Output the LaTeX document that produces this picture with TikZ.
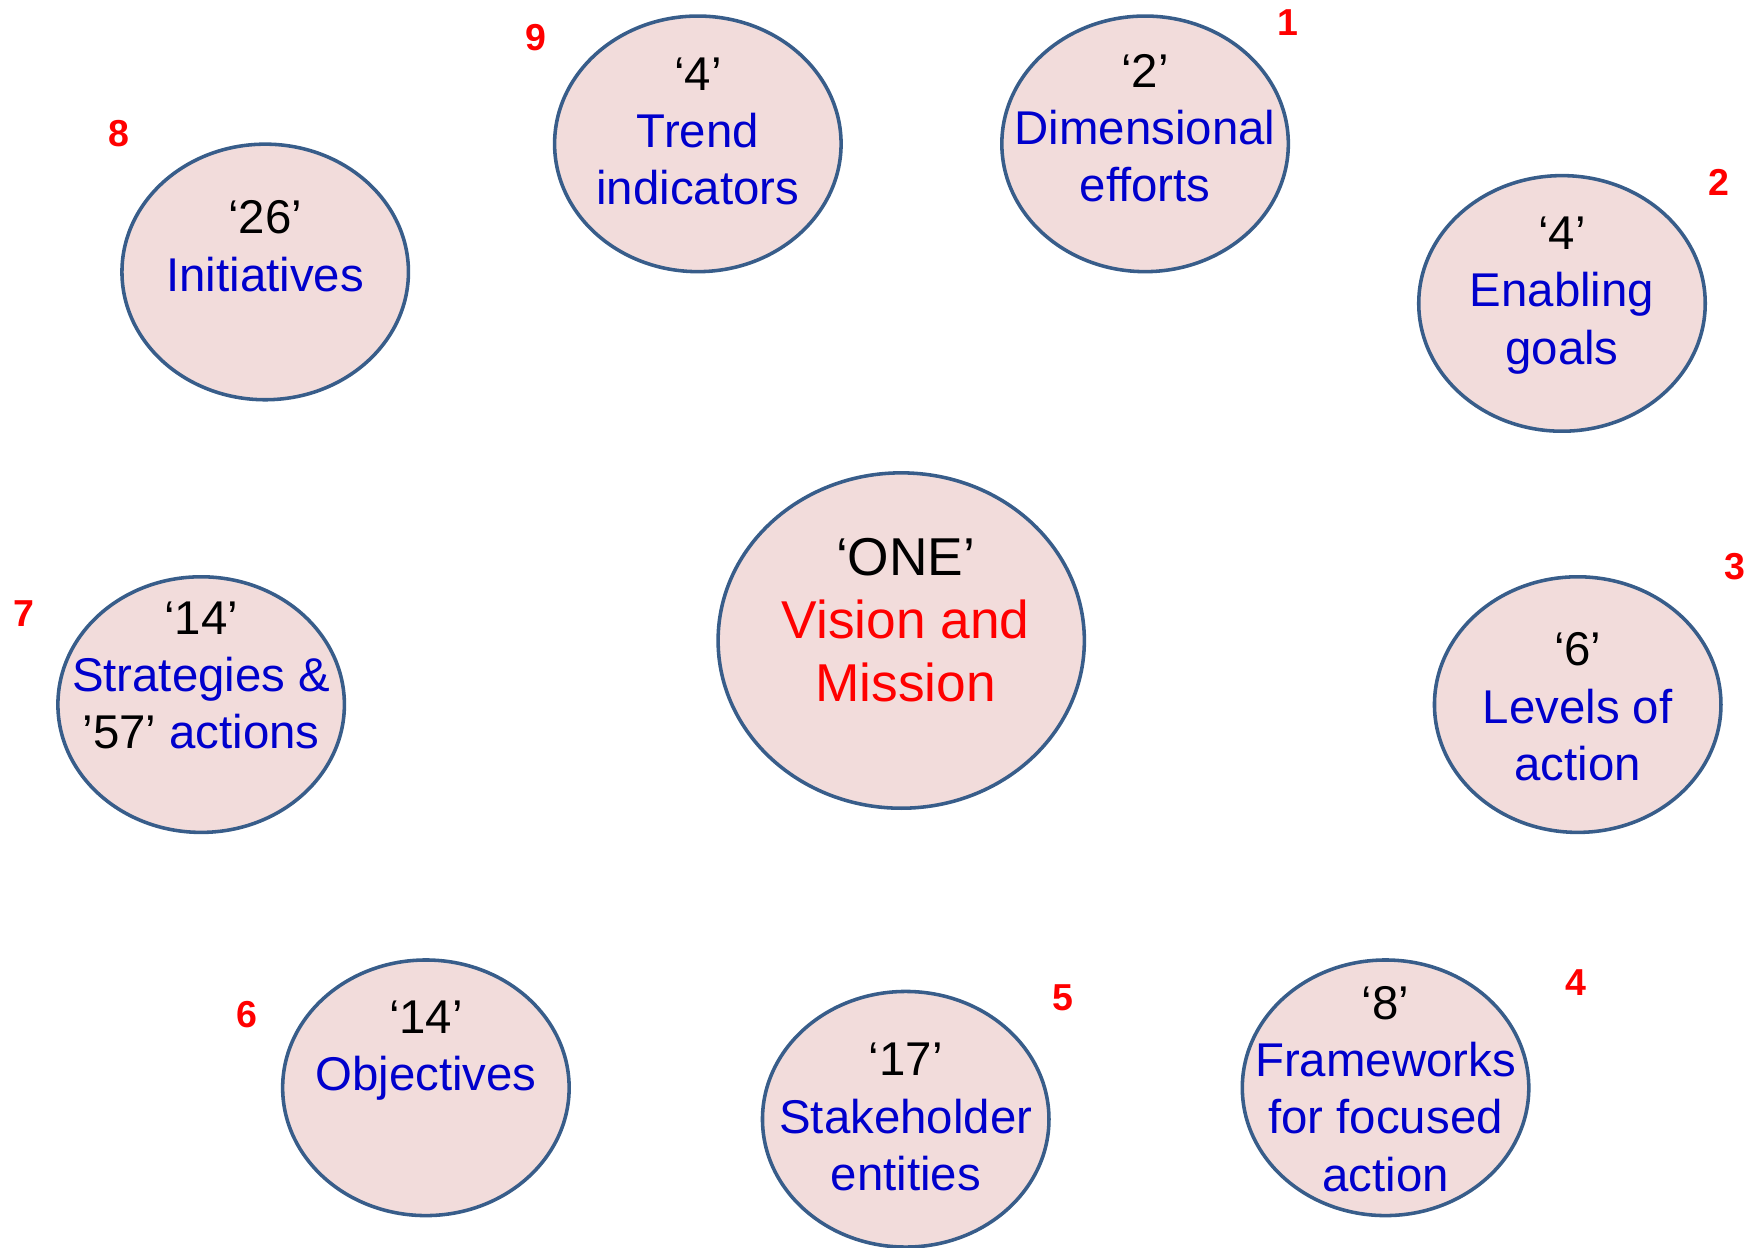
\documentclass[tikz,border=0pt]{standalone}
\usepackage{fontspec}
\setmainfont{Liberation Sans}
\usepackage{xcolor}
\definecolor{discFill}{HTML}{F2DCDB}
\definecolor{discLine}{HTML}{385D8A}
\definecolor{textBlue}{HTML}{0000CC}
\definecolor{textRed}{HTML}{FF0000}
\usetikzlibrary{shapes.geometric, positioning}
\tikzset{disc/.style={ellipse, draw=discLine, fill=discFill, line width=1.8pt, inner sep=0pt, minimum width=5.1cm, minimum height=4.55cm}}

\begin{document}
\begin{tikzpicture}[x=0.02cm, y=-0.02cm, every node/.style={align=center}, txt/.style={font=\fontsize{24}{29}\selectfont, text=textBlue}, num/.style={font=\fontsize{19}{22}\selectfont\bfseries, text=textRed}]
\useasboundingbox (0,0) rectangle (1568,1110);
\node[disc, minimum width=6.52cm, minimum height=5.97cm] (e0) at (802,570) {};
\node[disc] (e1) at (1019,128) {};
\node[disc] (e2) at (1390,270) {};
\node[disc] (e3) at (1404,627) {};
\node[disc] (e4) at (1233,968) {};
\node[disc] (e5) at (806,996) {};
\node[disc] (e6) at (379,968) {};
\node[disc] (e7) at (179,627) {};
\node[disc] (e8) at (236,242) {};
\node[disc] (e9) at (621,128) {};
\node[txt, font=\fontsize{27}{32}\selectfont, text=textRed] (t0) at (806,552) {\textcolor{black}{‘ONE’}\\Vision and\\Mission};
\node[txt] (t1) at (1019,114) {\textcolor{black}{‘2’}\\Dimensional\\efforts};
\node[txt] (t2) at (1390,263) {\textcolor{black}{‘4’}\\Enabling\\goals};
\node[txt] (t3) at (1404,629) {\textcolor{black}{‘6’}\\Levels of\\action};
\node[txt] (t4) at (1233,969) {\textcolor{black}{‘8’}\\Frameworks\\for focused\\action};
\node[txt] (t5) at (806,994) {\textcolor{black}{‘17’}\\Stakeholder\\entities};
\node[txt] (t6) at (379,935) {\textcolor{black}{‘14’}\\Objectives};
\node[txt] (t7) at (179,601) {\textcolor{black}{‘14’}\\Strategies \&\\\textcolor{black}{’57’} actions};
\node[txt] (t8) at (236,219) {\textcolor{black}{‘26’}\\Initiatives};
\node[txt] (t9) at (621,117) {\textcolor{black}{‘4’}\\Trend\\indicators};
\node[num] (n1) at (1146,20) {1};
\node[num] (n2) at (1530,162) {2};
\node[num] (n3) at (1544,504) {3};
\node[num] (n4) at (1402,874) {4};
\node[num] (n5) at (946,888) {5};
\node[num] (n6) at (220,903) {6};
\node[num] (n7) at (21,546) {7};
\node[num] (n8) at (106,119) {8};
\node[num] (n9) at (477,33) {9};
\end{tikzpicture}
\end{document}
